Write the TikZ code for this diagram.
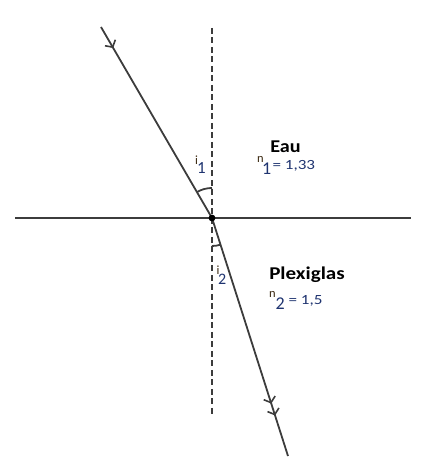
\documentclass[tikz,border=0pt]{standalone}
\usepackage{fontspec}
\setmainfont{Carlito}
\usetikzlibrary{arrows.meta,decorations.markings,calc}
\definecolor{ray}{HTML}{3C3C3C}
\definecolor{brn}{HTML}{3A2810}
\definecolor{blu}{HTML}{1F3470}
\tikzset{
  raypath/.style={draw=ray,line width=1.8pt},
  sm/.style={inner sep=0pt,anchor=base west,text=brn,font=\fontsize{12.5}{15}\selectfont},
  sub/.style={inner sep=0pt,anchor=base west,text=blu,font=\fontsize{18}{20}\selectfont},
  val/.style={inner sep=0pt,anchor=base west,text=blu,font=\fontsize{14}{16}\selectfont},
  ttl/.style={inner sep=0pt,anchor=base,font=\bfseries\fontsize{18}{21}\selectfont}
}
\begin{document}
\begin{tikzpicture}[x=1pt,y=1pt]
\useasboundingbox (0,0) rectangle (428,472);
\coordinate (O) at (212,254);
\coordinate (L) at (15,254);
\coordinate (R) at (411,254);
\coordinate (T) at (212,444);
\coordinate (Bt) at (212,56);
\coordinate (A) at (101,445);
\coordinate (B) at (288,16);
\draw[draw=ray,line width=1.6pt,dash pattern=on 6pt off 3.5pt] (T) -- (Bt);
\draw[draw=ray,line width=2.2pt] (L) -- (R);
\draw[raypath,postaction={decorate,decoration={markings,
   mark=at position 0.11 with {\arrow{Straight Barb[length=5pt,width=12pt,line width=1.6pt]}}}}] (A) -- (O);
\draw[raypath,postaction={decorate,decoration={markings,
   mark=at position 0.78 with {\arrow{Straight Barb[length=5pt,width=12pt,line width=1.6pt]}},
   mark=at position 0.83 with {\arrow{Straight Barb[length=5pt,width=12pt,line width=1.6pt]}}}}] (O) -- (B);
\fill[black] (O) circle (3.4);
\draw[draw=ray,line width=1.8pt] ($(O)+(90:30)$) arc (90:120.2:30);
\draw[draw=ray,line width=1.8pt] ($(O)+(270:28)$) arc (270:287.7:28);
% i1
\node[sm] (i1a) at (195,307.7) {i};
\node[sub,font=\fontsize{17}{19}\selectfont] (i1b) at (197,298.7) {1};
% i2
\node[sm] (i2a) at (216.3,197) {i};
\node[sub,font=\fontsize{16}{18}\selectfont] (i2b) at (218,187) {2};
% Eau
\node[ttl] (eau) at (285.5,319.3) {\scalebox{1.12}[1]{Eau}};
\node[sm] (n1a) at (256.8,309) {n};
\node[sub] (n1b) at (262,297.3) {1};
\node[val] (n1c) at (272.3,302.3) {\scalebox{1.22}[1]{= 1,33}};
% Plexiglas
\node[ttl] (plex) at (307,192) {\scalebox{1.17}[1]{Plexiglas}};
\node[sm] (n2a) at (268.8,174) {n};
\node[sub] (n2b) at (275.5,162.3) {2};
\node[val] (n2c) at (288.3,167.3) {\scalebox{1.22}[1]{= 1,5}};
\end{tikzpicture}
\end{document}
